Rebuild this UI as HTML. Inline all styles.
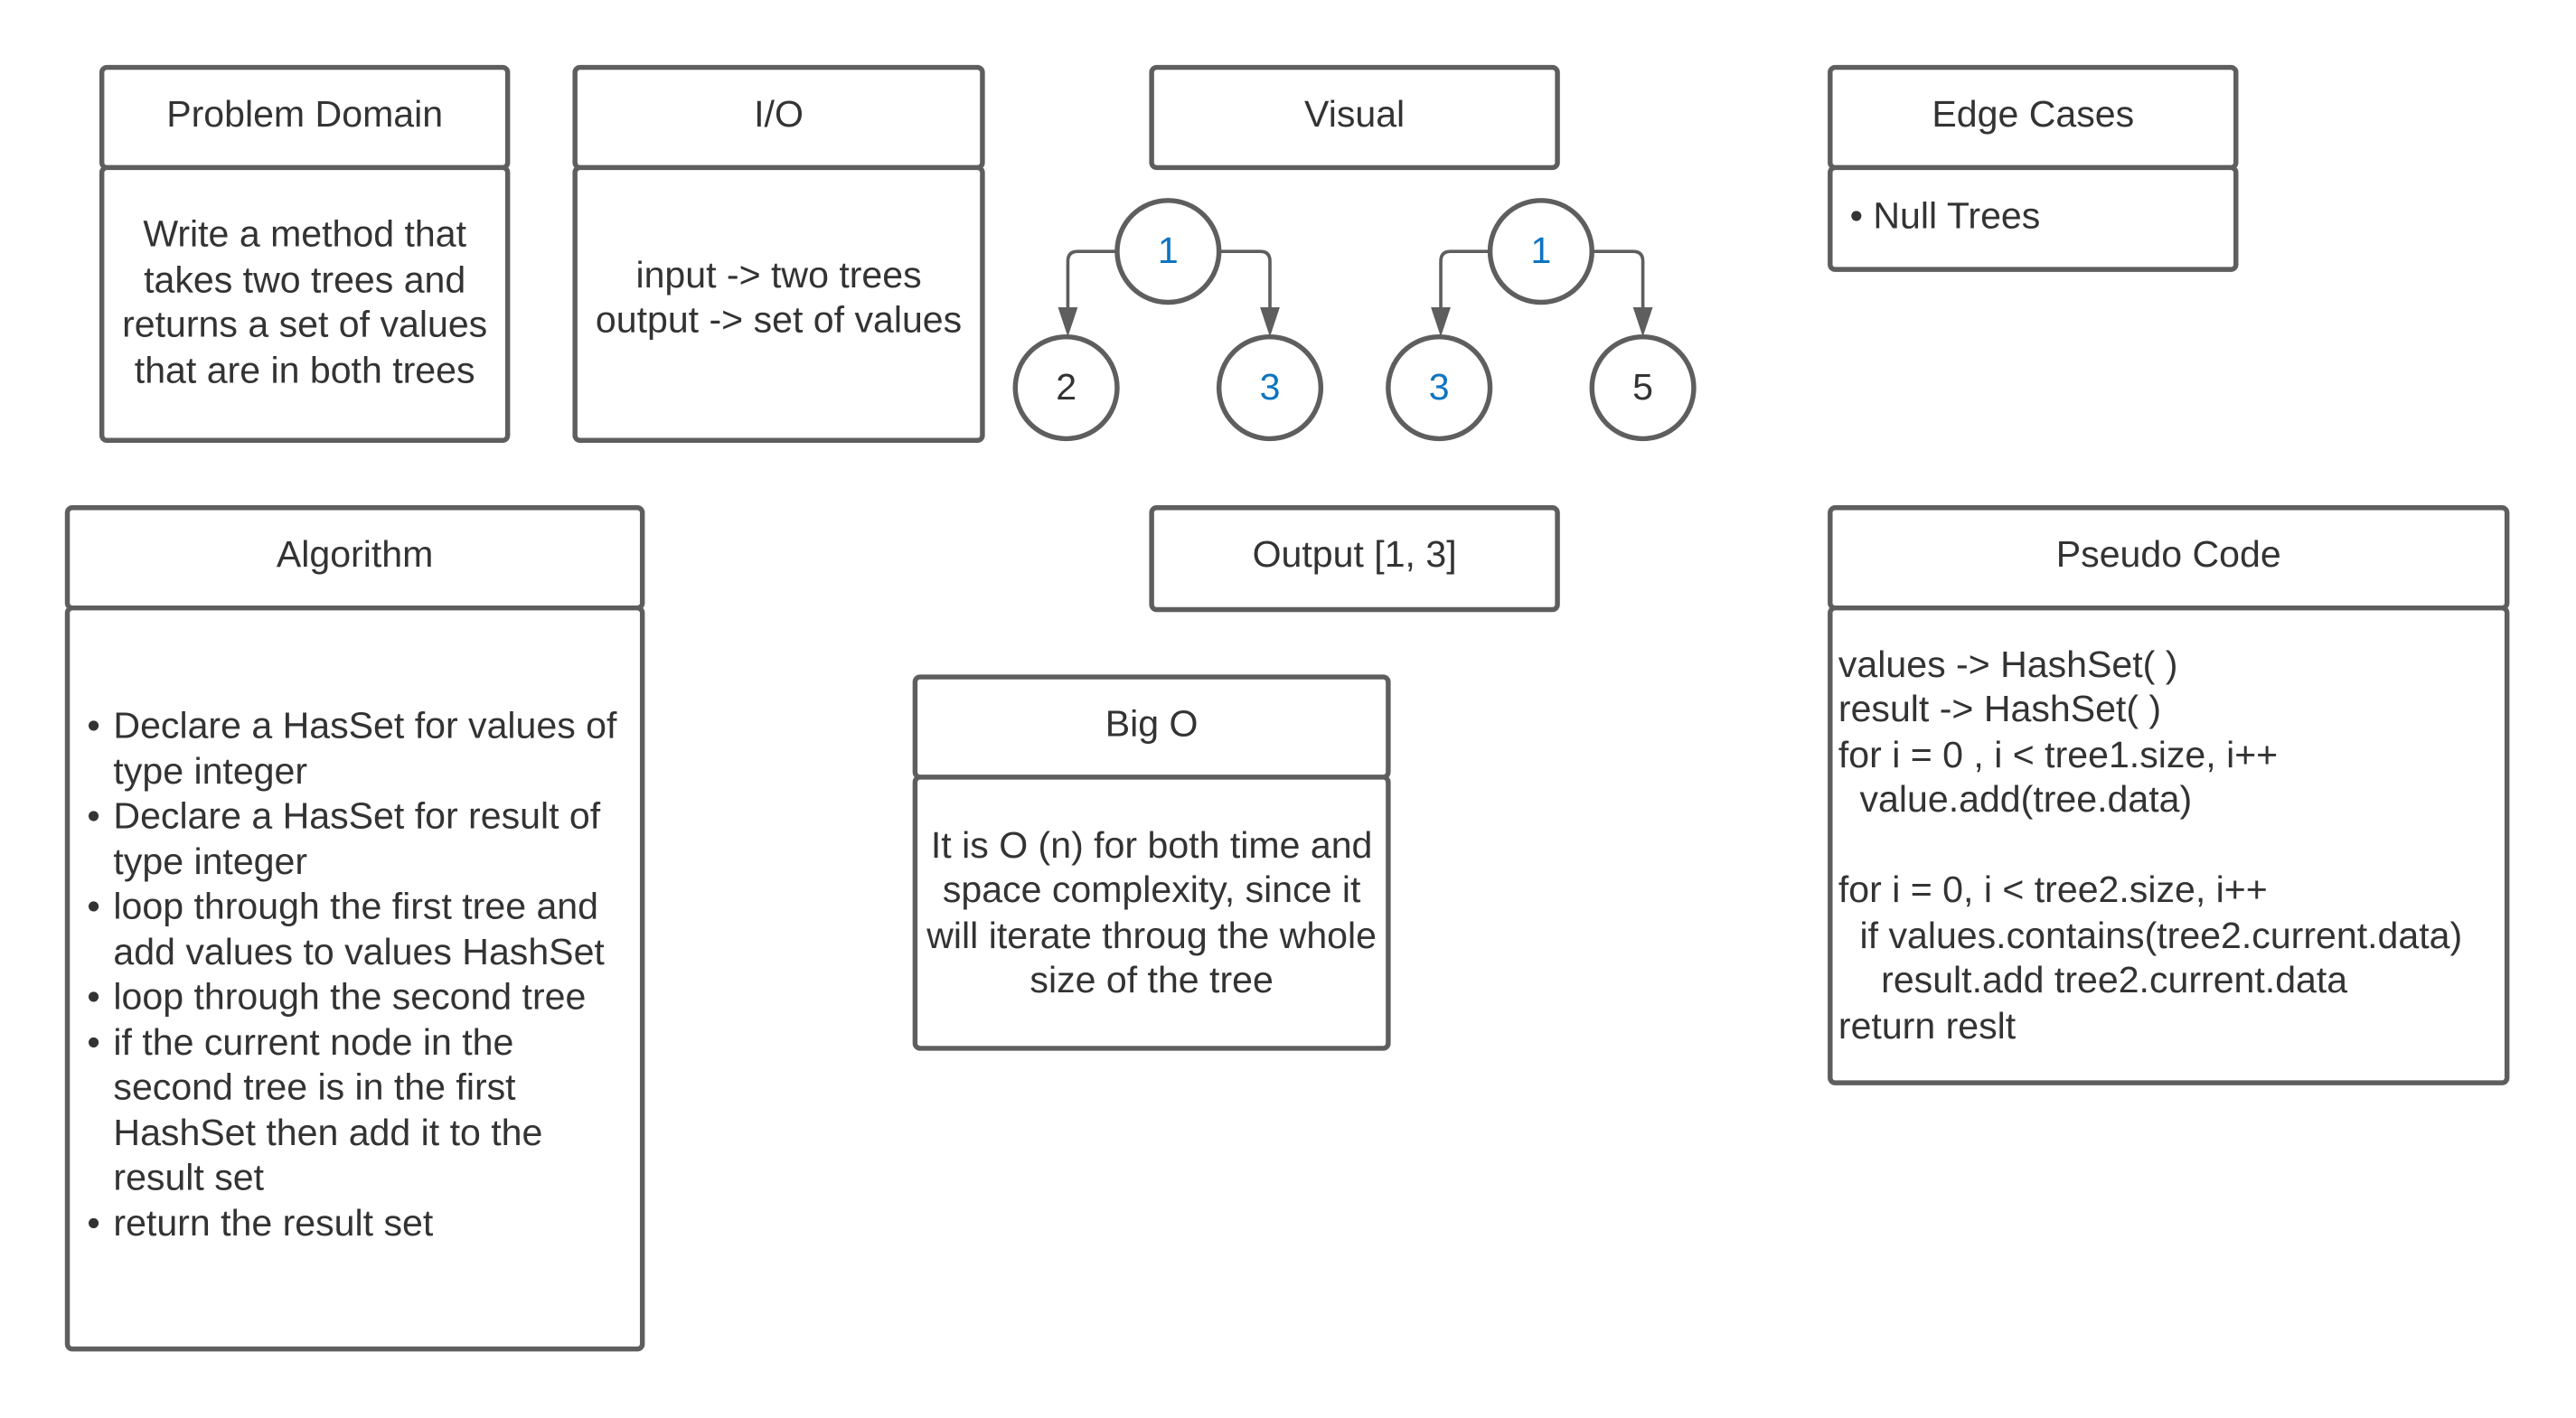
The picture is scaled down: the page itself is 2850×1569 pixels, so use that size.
<!DOCTYPE html>
<html><head><meta charset="utf-8"><style>
html,body{margin:0;padding:0;background:#fff;}
svg{display:block;}
text{font-family:"Liberation Sans",Arial,sans-serif;font-size:22.6px;fill:#333;}
.c{text-anchor:middle;}
.b{fill:#0e75c0;}
</style></head><body>
<svg width="2850" height="1569" viewBox="0 0 1568 863" preserveAspectRatio="none" xmlns="http://www.w3.org/2000/svg">
<g fill="#fff" stroke="#5e5e5e" stroke-width="3">
<rect x="62" y="41" width="247" height="61" rx="3"/>
<rect x="62" y="102" width="247" height="166" rx="3"/>
<rect x="350" y="41" width="248" height="61" rx="3"/>
<rect x="350" y="102" width="248" height="166" rx="3"/>
<rect x="701" y="41" width="247" height="61" rx="3"/>
<rect x="1114" y="41" width="247" height="61" rx="3"/>
<rect x="1114" y="102" width="247" height="62" rx="3"/>
<rect x="41" y="309" width="350" height="61" rx="3"/>
<rect x="41" y="370" width="350" height="451" rx="3"/>
<rect x="701" y="309" width="247" height="62" rx="3"/>
<rect x="1114" y="309" width="412" height="61" rx="3"/>
<rect x="1114" y="370" width="412" height="289" rx="3"/>
<rect x="557" y="412" width="288" height="61" rx="3"/>
<rect x="557" y="473" width="288" height="165" rx="3"/>
</g>
<g fill="none" stroke="#5e5e5e" stroke-width="2">
<path d="M680,153 H656 Q650,153 650,159 V190"/>
<path d="M742,153 H767 Q773,153 773,159 V190"/>
<path d="M907,153 H883 Q877,153 877,159 V190"/>
<path d="M969,153 H994 Q1000,153 1000,159 V190"/>
</g>
<g fill="#5e5e5e">
<polygon points="644,187 656,187 650,205"/>
<polygon points="767,187 779,187 773,205"/>
<polygon points="871,187 883,187 877,205"/>
<polygon points="994,187 1006,187 1000,205"/>
</g>
<g fill="#fff" stroke="#5e5e5e" stroke-width="3">
<circle cx="711" cy="153" r="31"/><circle cx="649" cy="236" r="31"/><circle cx="773" cy="236" r="31"/>
<circle cx="938" cy="153" r="31"/><circle cx="876" cy="236" r="31"/><circle cx="1000" cy="236" r="31"/>
</g>
<text class="c b" x="711" y="160">1</text>
<text class="c" x="649" y="243">2</text>
<text class="c b" x="773" y="243">3</text>
<text class="c b" x="938" y="160">1</text>
<text class="c b" x="876" y="243">3</text>
<text class="c" x="1000" y="243">5</text>

<text class="c" x="185.5" y="77">Problem Domain</text>
<text class="c" x="185.5" y="150">Write a method that</text>
<text class="c" x="185.5" y="178">takes two trees and</text>
<text class="c" x="185.5" y="205">returns a set of values</text>
<text class="c" x="185.5" y="233">that are in both trees</text>
<text class="c" x="474" y="175">input -&gt; two trees</text>
<text class="c" x="474" y="202">output -&gt; set of values</text>
<text class="c" x="474" y="77">I/O</text>
<text class="c" x="824.5" y="77">Visual</text>
<text class="c" x="1237.5" y="77">Edge Cases</text>
<text x="1126" y="139">• Null Trees</text>
<text class="c" x="216" y="345">Algorithm</text>
<text class="c" x="824.5" y="345">Output [1, 3]</text>
<text class="c" x="1320" y="345">Pseudo Code</text>
<text class="c" x="701" y="448">Big O</text>
<text class="c" x="701" y="522">It is O (n) for both time and</text>
<text class="c" x="701" y="549">space complexity, since it</text>
<text class="c" x="701" y="577">will iterate throug the whole</text>
<text class="c" x="701" y="604">size of the tree</text>
<g>
<text x="53" y="449">•</text><text x="69" y="449">Declare a HasSet for values of</text>
<text x="69" y="477">type integer</text>
<text x="53" y="504">•</text><text x="69" y="504">Declare a HasSet for result of</text>
<text x="69" y="532">type integer</text>
<text x="53" y="559">•</text><text x="69" y="559">loop through the first tree and</text>
<text x="69" y="587">add values to values HashSet</text>
<text x="53" y="614">•</text><text x="69" y="614">loop through the second tree</text>
<text x="53" y="642">•</text><text x="69" y="642">if the current node in the</text>
<text x="69" y="669">second tree is in the first</text>
<text x="69" y="697">HashSet then add it to the</text>
<text x="69" y="724">result set</text>
<text x="53" y="752">•</text><text x="69" y="752">return the result set</text>
</g>
<g>
<text x="1119" y="412">values -&gt; HashSet( )</text>
<text x="1119" y="439">result -&gt; HashSet( )</text>
<text x="1119" y="467">for i = 0 , i &lt; tree1.size, i++</text>
<text x="1132" y="494">value.add(tree.data)</text>
<text x="1119" y="549">for i = 0, i &lt; tree2.size, i++</text>
<text x="1132" y="577">if values.contains(tree2.current.data)</text>
<text x="1145" y="604">result.add tree2.current.data</text>
<text x="1119" y="632">return reslt</text>
</g>
</svg>
</body></html>
